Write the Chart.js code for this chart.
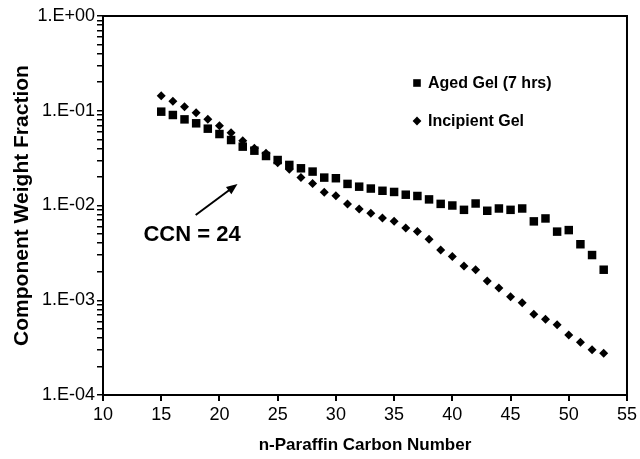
<!DOCTYPE html>
<html><head><meta charset="utf-8">
<script src="https://cdn.jsdelivr.net/npm/chart.js@4.4.1/dist/chart.umd.min.js"></script>
<style>html,body{margin:0;padding:0;background:#fff}</style>
</head><body>
<canvas id="c" width="640" height="459"></canvas>
<script>
const carbonNumbers = [15,16,17,18,19,20,21,22,23,24,25,26,27,28,29,30,31,32,33,34,35,36,37,38,39,40,41,42,43,44,45,46,47,48,49,50,51,52,53];
const agedGel = [0.0978,0.0902,0.0811,0.0737,0.0647,0.0568,0.0491,0.0418,0.0379,0.0333,0.0302,0.0268,0.0247,0.0228,0.0197,0.0194,0.0169,0.0158,0.0151,0.0143,0.0139,0.0130,0.0126,0.0116,0.0104,0.0100,0.0090,0.0105,0.0088,0.0093,0.0090,0.0093,0.0068,0.0073,0.0053,0.0055,0.0039,0.0030,0.0021];
const incipientGel = [0.144,0.126,0.110,0.0954,0.0811,0.0696,0.0587,0.0483,0.0401,0.0355,0.0283,0.0241,0.0198,0.0171,0.0138,0.0127,0.0104,0.0092,0.0083,0.0074,0.0068,0.0058,0.0053,0.0044,0.0034,0.0029,0.0023,0.0021,0.0016,0.00135,0.00109,0.00094,0.00071,0.00063,0.00055,0.00043,0.00036,0.00030,0.000275];
const seriesLabels = ['Aged Gel (7 hrs)', 'Incipient Gel'];
const yDecades = [1e-4, 1e-3, 1e-2, 1e-1, 1];
const yDecadeLabels = ['1.E-04', '1.E-03', '1.E-02', '1.E-01', '1.E+00'];
const xTickValues = [10,15,20,25,30,35,40,45,50,55];
const annotationText = 'CCN = 24';
const annotationArrow = {tail: [17.96, 0.00794], head: [21.55, 0.01686], text: [17.65, 0.00489]};

const FONT = '"Liberation Sans", Arial, sans-serif';

function toPoints(ys){ return carbonNumbers.map((x,i)=>({x:x, y:ys[i]})); }

const minorTicks = [];
yDecades.forEach((d, k) => {
  if (k < yDecades.length - 1) { for (let m = 1; m <= 9; m++) minorTicks.push(+(d*m).toPrecision(3)); }
  else minorTicks.push(d);
});

const decorPlugin = {
  id: 'decor',
  afterDraw(chart){
    const {ctx, chartArea:a, scales:{x, y}} = chart;
    ctx.save();
    // plot frame
    ctx.strokeStyle = '#000'; ctx.lineWidth = 2;
    ctx.strokeRect(a.left, a.top, a.right - a.left, a.bottom - a.top);
    // legend
    ctx.fillStyle = '#000';
    ctx.font = 'bold 16px ' + FONT;
    ctx.textBaseline = 'middle';
    ctx.textAlign = 'left';
    const ds = chart.data.datasets;
    const lx = 417, ly = [83, 121];
    ds.forEach((d, i) => {
      ctx.beginPath();
      if (d.pointStyle === 'rect') {
        ctx.rect(lx - 3.8, ly[i] - 3.8, 7.6, 7.6);
      } else {
        ctx.moveTo(lx, ly[i] - 4.4); ctx.lineTo(lx + 4.4, ly[i]); ctx.lineTo(lx, ly[i] + 4.4); ctx.lineTo(lx - 4.4, ly[i]); ctx.closePath();
      }
      ctx.fill();
      ctx.fillText(d.label, 428, ly[i] + 1);
    });
    // annotation
    const tx = x.getPixelForValue(annotationArrow.tail[0]), ty = y.getPixelForValue(annotationArrow.tail[1]);
    const hx = x.getPixelForValue(annotationArrow.head[0]), hy = y.getPixelForValue(annotationArrow.head[1]);
    ctx.lineWidth = 2;
    ctx.beginPath(); ctx.moveTo(tx, ty);
    const ang = Math.atan2(hy - ty, hx - tx);
    ctx.lineTo(hx - 8*Math.cos(ang), hy - 8*Math.sin(ang)); ctx.stroke();
    ctx.beginPath();
    ctx.moveTo(hx, hy);
    ctx.lineTo(hx - 11*Math.cos(ang) + 4.5*Math.sin(ang), hy - 11*Math.sin(ang) - 4.5*Math.cos(ang));
    ctx.lineTo(hx - 11*Math.cos(ang) - 4.5*Math.sin(ang), hy - 11*Math.sin(ang) + 4.5*Math.cos(ang));
    ctx.closePath(); ctx.fill();
    ctx.font = 'bold 22px ' + FONT;
    ctx.textAlign = 'center';
    ctx.fillText(annotationText, x.getPixelForValue(annotationArrow.text[0]), y.getPixelForValue(annotationArrow.text[1]));
    ctx.restore();
  }
};

new Chart(document.getElementById('c'), {
  type: 'scatter',
  data: {
    datasets: [
      {label: seriesLabels[0], data: toPoints(agedGel), pointStyle: 'rect', pointRadius: 6, pointHoverRadius: 6, backgroundColor: '#000', borderColor: '#000', borderWidth: 0},
      {label: seriesLabels[1], data: toPoints(incipientGel), pointStyle: 'rectRot', pointRadius: 4.5, pointHoverRadius: 4.5, backgroundColor: '#000', borderColor: '#000', borderWidth: 0}
    ]
  },
  options: {
    responsive: false,
    animation: false,
    events: [],
    layout: {padding: {top: 16, right: 11, left: 0, bottom: 0}},
    plugins: {legend: {display: false}, tooltip: {enabled: false}},
    scales: {
      x: {
        type: 'linear', min: 10, max: 55,
        afterBuildTicks: s => { s.ticks = xTickValues.map(v => ({value: v})); },
        afterFit: s => { s.height = 64; },
        grid: {drawOnChartArea: false, drawTicks: true, tickLength: 6, color: '#000', lineWidth: 2},
        border: {display: true, color: '#000', width: 2},
        ticks: {color: '#000', font: {family: FONT, size: 18}, padding: 3, autoSkip: false, maxRotation: 0},
        title: {display: true, text: 'n-Paraffin Carbon Number', color: '#000', font: {family: FONT, size: 17, weight: 'bold'}, padding: {top: 0, bottom: 3}}
      },
      y: {
        type: 'logarithmic', min: 1e-4, max: 1,
        afterBuildTicks: s => { s.ticks = minorTicks.map(v => ({value: v})); },
        afterFit: s => { s.width = 103; },
        grid: {drawOnChartArea: false, drawTicks: true, tickLength: 6, color: '#000', lineWidth: 1.5},
        border: {display: true, color: '#000', width: 2},
        ticks: {
          color: '#000', font: {family: FONT, size: 18}, padding: 2, autoSkip: false,
          callback: v => { const i = yDecades.indexOf(v); return i >= 0 ? yDecadeLabels[i] : ''; }
        },
        title: {display: true, text: 'Component Weight Fraction', color: '#000', font: {family: FONT, size: 21, weight: 'bold'}, padding: {top: 10, bottom: 0}}
      }
    }
  },
  plugins: [decorPlugin]
});
</script>
</body></html>
